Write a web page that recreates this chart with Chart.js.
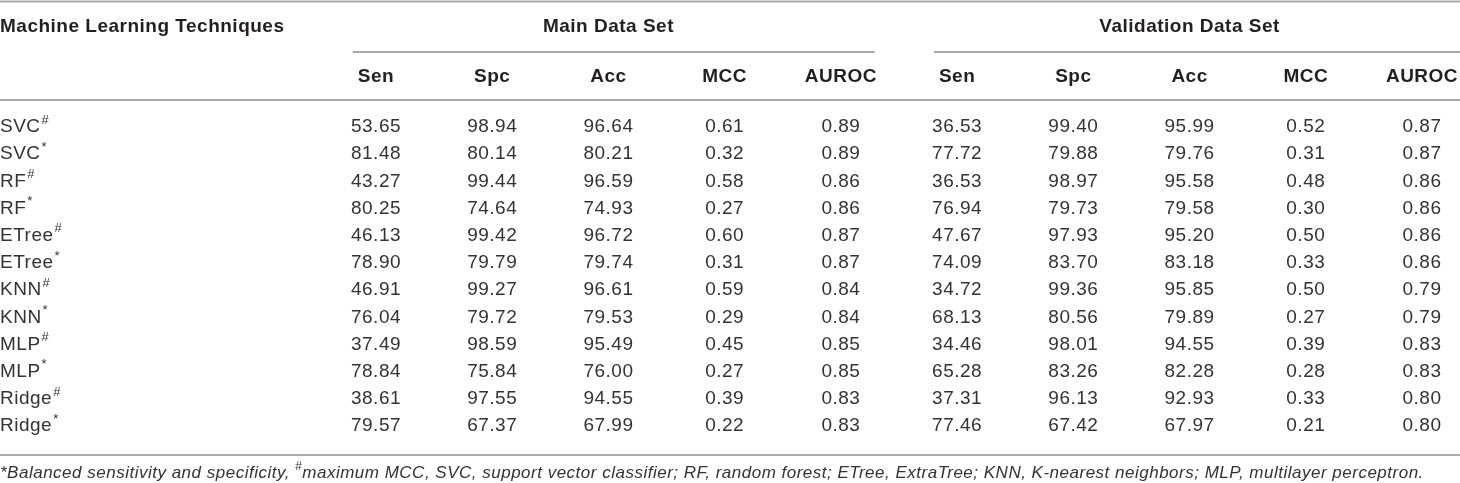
<!DOCTYPE html>
<html>
<head>
<meta charset="utf-8">
<script src="https://cdn.jsdelivr.net/npm/chart.js@4.4.1/dist/chart.umd.min.js"></script>
<style>
  html, body { margin: 0; padding: 0; background: #fff; }
  #wrap { width: 1460px; height: 483px; position: relative; }
</style>
</head>
<body>
<div id="wrap"><canvas id="tableChart"></canvas></div>
<script>
// === Data ===
const techniques = ['SVC#', 'SVC*', 'RF#', 'RF*', 'ETree#', 'ETree*', 'KNN#', 'KNN*', 'MLP#', 'MLP*', 'Ridge#', 'Ridge*'];
const groups = ['Main Data Set', 'Validation Data Set'];
const metrics = ['Sen', 'Spc', 'Acc', 'MCC', 'AUROC'];
const firstHeader = 'Machine Learning Techniques';

const mainSen   = [53.65, 81.48, 43.27, 80.25, 46.13, 78.90, 46.91, 76.04, 37.49, 78.84, 38.61, 79.57];
const mainSpc   = [98.94, 80.14, 99.44, 74.64, 99.42, 79.79, 99.27, 79.72, 98.59, 75.84, 97.55, 67.37];
const mainAcc   = [96.64, 80.21, 96.59, 74.93, 96.72, 79.74, 96.61, 79.53, 95.49, 76.00, 94.55, 67.99];
const mainMcc   = [0.61, 0.32, 0.58, 0.27, 0.60, 0.31, 0.59, 0.29, 0.45, 0.27, 0.39, 0.22];
const mainAuroc = [0.89, 0.89, 0.86, 0.86, 0.87, 0.87, 0.84, 0.84, 0.85, 0.85, 0.83, 0.83];

const valSen   = [36.53, 77.72, 36.53, 76.94, 47.67, 74.09, 34.72, 68.13, 34.46, 65.28, 37.31, 77.46];
const valSpc   = [99.40, 79.88, 98.97, 79.73, 97.93, 83.70, 99.36, 80.56, 98.01, 83.26, 96.13, 67.42];
const valAcc   = [95.99, 79.76, 95.58, 79.58, 95.20, 83.18, 95.85, 79.89, 94.55, 82.28, 92.93, 67.97];
const valMcc   = [0.52, 0.31, 0.48, 0.30, 0.50, 0.33, 0.50, 0.27, 0.39, 0.28, 0.33, 0.21];
const valAuroc = [0.87, 0.87, 0.86, 0.86, 0.86, 0.86, 0.79, 0.79, 0.83, 0.83, 0.80, 0.80];

const footnoteParts = [
  { text: '*Balanced sensitivity and specificity, ' },
  { text: '#', sup: true },
  { text: 'maximum MCC, SVC, support vector classifier; RF, random forest; ETree, ExtraTree; KNN, K-nearest neighbors; MLP, multilayer perceptron.' }
];

const columnValues = [mainSen, mainSpc, mainAcc, mainMcc, mainAuroc, valSen, valSpc, valAcc, valMcc, valAuroc];
const columnKeys = groups.flatMap(g => metrics.map(m => g + '|' + m));

// === Styles ===
const FONT = '"Liberation Sans", Arial, sans-serif';
const TEXT = '#231f20';
const TEXT_LIGHT = '#333333';
const RULE = '#a9a9a9';

function drawWithSup(ctx, str, x, y, size, italic) {
  const base = str.replace(/[#*]$/, '');
  const mark = str.slice(base.length);
  const st = italic ? 'italic ' : '';
  ctx.textAlign = 'left';
  ctx.font = st + size + 'px ' + FONT;
  ctx.fillText(base, x, y);
  if (mark) {
    const w = ctx.measureText(base).width;
    ctx.font = st + Math.round(size * 0.68) + 'px ' + FONT;
    ctx.fillText(mark, w + x + 1, y - size * 0.36);
  }
}

// === Table plugin ===
const tablePlugin = {
  id: 'tableText',
  afterDatasetsDraw(chart) {
    const { ctx, scales: { x, y }, chartArea, width } = chart;
    const top = chartArea.top, bottom = chartArea.bottom;
    const step = x.getPixelForValue(1) - x.getPixelForValue(0);
    ctx.save();
    ctx.fillStyle = TEXT;
    ctx.textBaseline = 'middle';
    ctx.letterSpacing = '0.5px';

    // rules
    ctx.strokeStyle = RULE;
    ctx.lineWidth = 2;
    const hline = (x0, x1, yy) => { ctx.beginPath(); ctx.moveTo(x0, yy); ctx.lineTo(x1, yy); ctx.stroke(); };
    hline(0, width, 1.5);
    hline(0, width, top - 27);
    hline(0, width, bottom + 29);

    // first header
    ctx.font = 'bold 19px ' + FONT;
    ctx.textAlign = 'left';
    ctx.fillText(firstHeader, 0, top - 100);

    // group headers + underlines
    groups.forEach((g, gi) => {
      const x0 = x.getPixelForValue(gi * metrics.length);
      const x1 = x.getPixelForValue(gi * metrics.length + metrics.length - 1);
      ctx.font = 'bold 19px ' + FONT;
      ctx.textAlign = 'center';
      ctx.fillText(g, (x0 + x1) / 2, top - 100);
      const left = x0 - step * 0.2;
      const right = gi === groups.length - 1 ? width : x1 + step * 0.29;
      hline(left, right, top - 75);
    });

    // metric headers
    columnKeys.forEach((k, i) => {
      ctx.font = 'bold 19px ' + FONT;
      ctx.textAlign = 'center';
      ctx.fillText(k.split('|')[1], x.getPixelForValue(i), top - 50);
    });

    // row labels
    ctx.fillStyle = TEXT_LIGHT;
    techniques.forEach((t, j) => {
      drawWithSup(ctx, t, 0, y.getPixelForValue(j), 19, false);
    });

    // cell values
    ctx.font = '19px ' + FONT;
    ctx.textAlign = 'center';
    chart.data.datasets.forEach((ds, i) => {
      const meta = chart.getDatasetMeta(i);
      meta.data.forEach((pt, j) => {
        ctx.fillText(columnValues[i][j].toFixed(2), pt.x, pt.y);
      });
    });

    // footnote
    let fx = 0;
    const fy = bottom + 47;
    ctx.textAlign = 'left';
    ctx.letterSpacing = '0.5px';
    footnoteParts.forEach(p => {
      if (p.sup) {
        ctx.font = 'italic 12px ' + FONT;
        ctx.fillText(p.text, fx, fy - 6);
      } else {
        ctx.font = 'italic 17px ' + FONT;
        ctx.fillText(p.text, fx, fy);
      }
      fx += ctx.measureText(p.text).width;
    });
    ctx.restore();
  }
};

// === Chart ===
const ctx = document.getElementById('tableChart').getContext('2d');
const tableChart = new Chart(ctx, {
  type: 'line',
  data: {
    datasets: columnKeys.map((k, i) => ({
      label: k,
      data: techniques.map(t => ({ x: k, y: t })),
      showLine: false,
      pointRadius: 0,
      pointHoverRadius: 0
    }))
  },
  options: {
    responsive: true,
    maintainAspectRatio: false,
    animation: false,
    layout: { padding: { left: 376, right: 38, top: 127, bottom: 57 } },
    plugins: {
      legend: { display: false },
      tooltip: { enabled: false }
    },
    scales: {
      x: { type: 'category', labels: columnKeys, offset: false, display: false },
      y: { type: 'category', labels: techniques, offset: false, display: false }
    }
  },
  plugins: [tablePlugin]
});
</script>
</body>
</html>
